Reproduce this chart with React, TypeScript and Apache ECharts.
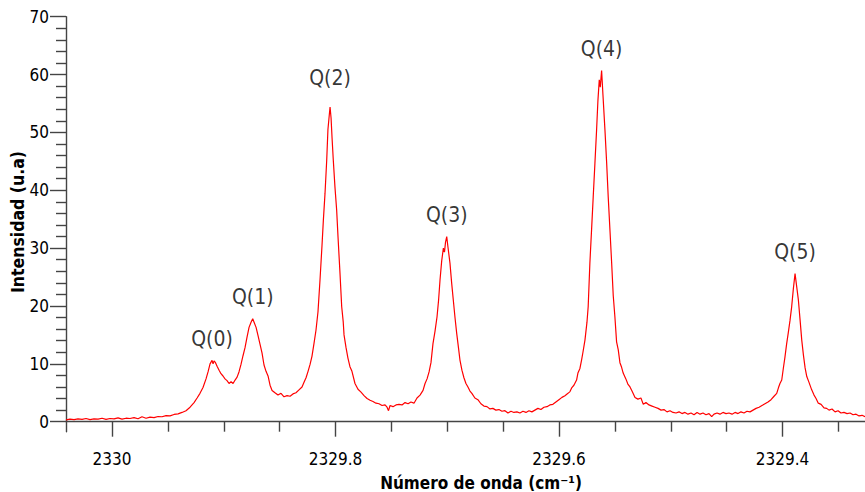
import React, { useEffect, useRef } from "react";
import * as echarts from "echarts";

// Raman Q-branch spectrum: wavenumber (cm^-1) and intensity (u.a)
const waveNumbers: number[] = [
  2330.0412, 2330.0376, 2330.034, 2330.0304, 2330.0268, 2330.0233, 2330.0197, 2330.0161, 2330.0125, 2330.0089,
  2330.0054, 2330.0018, 2329.9982, 2329.9946, 2329.9911, 2329.9875, 2329.9839, 2329.9803, 2329.9767, 2329.9732,
  2329.9696, 2329.966, 2329.9624, 2329.9588, 2329.9553, 2329.9517, 2329.9481, 2329.9445, 2329.9409, 2329.9374,
  2329.9338, 2329.9302, 2329.9266, 2329.9239, 2329.9213, 2329.9186, 2329.9159, 2329.9141, 2329.9123, 2329.9105,
  2329.9096, 2329.9087, 2329.9074, 2329.906, 2329.9042, 2329.9025, 2329.9007, 2329.8989, 2329.8971, 2329.8953,
  2329.8935, 2329.8917, 2329.8899, 2329.8881, 2329.8864, 2329.8846, 2329.8828, 2329.881, 2329.8792, 2329.8774,
  2329.8756, 2329.8741, 2329.8729, 2329.8711, 2329.8694, 2329.8676, 2329.8658, 2329.864, 2329.8622, 2329.8604,
  2329.8586, 2329.8568, 2329.8542, 2329.8515, 2329.8488, 2329.8461, 2329.8434, 2329.8407, 2329.8381, 2329.8354,
  2329.8327, 2329.83, 2329.8282, 2329.8264, 2329.8246, 2329.8228, 2329.8211, 2329.8193, 2329.8175, 2329.8157,
  2329.8139, 2329.8121, 2329.8109, 2329.8094, 2329.8079, 2329.8068, 2329.8056, 2329.8049, 2329.804, 2329.8031,
  2329.802, 2329.8005, 2329.799, 2329.7978, 2329.796, 2329.7945, 2329.7931, 2329.7924, 2329.7906, 2329.7889,
  2329.7871, 2329.7853, 2329.7826, 2329.7799, 2329.7772, 2329.7745, 2329.7718, 2329.7691, 2329.7665, 2329.7638,
  2329.7611, 2329.7584, 2329.7557, 2329.7539, 2329.7526, 2329.7512, 2329.7486, 2329.7459, 2329.7432, 2329.7405,
  2329.7378, 2329.7351, 2329.7325, 2329.7298, 2329.7271, 2329.7244, 2329.7217, 2329.7199, 2329.7181, 2329.7163,
  2329.7146, 2329.7128, 2329.711, 2329.7092, 2329.7078, 2329.7065, 2329.705, 2329.7035, 2329.7025, 2329.7016,
  2329.7005, 2329.6994, 2329.6976, 2329.6961, 2329.6946, 2329.6931, 2329.6916, 2329.69, 2329.6887, 2329.6869,
  2329.6851, 2329.6833, 2329.6815, 2329.6797, 2329.678, 2329.6753, 2329.6726, 2329.6699, 2329.6672, 2329.6645,
  2329.6618, 2329.6592, 2329.6565, 2329.6538, 2329.6511, 2329.6484, 2329.6457, 2329.643, 2329.6404, 2329.6377,
  2329.635, 2329.6323, 2329.6296, 2329.6269, 2329.6243, 2329.6216, 2329.6189, 2329.6162, 2329.6135, 2329.6108,
  2329.6082, 2329.6055, 2329.6028, 2329.6001, 2329.5974, 2329.5947, 2329.592, 2329.5902, 2329.5885, 2329.5867,
  2329.5843, 2329.5831, 2329.5813, 2329.5798, 2329.5786, 2329.5768, 2329.575, 2329.5739, 2329.5724, 2329.5708,
  2329.5694, 2329.5679, 2329.5664, 2329.5652, 2329.564, 2329.5631, 2329.5619, 2329.5607, 2329.5589, 2329.5574,
  2329.556, 2329.5544, 2329.5529, 2329.5515, 2329.55, 2329.5485, 2329.547, 2329.5455, 2329.544, 2329.5426,
  2329.5402, 2329.5384, 2329.5365, 2329.5347, 2329.532, 2329.5294, 2329.5267, 2329.5246, 2329.5222, 2329.5195,
  2329.5168, 2329.5141, 2329.5114, 2329.5087, 2329.5061, 2329.5034, 2329.5007, 2329.498, 2329.4953, 2329.4926,
  2329.49, 2329.4873, 2329.4846, 2329.4819, 2329.4792, 2329.4765, 2329.4738, 2329.4712, 2329.4685, 2329.4658,
  2329.4634, 2329.4613, 2329.4586, 2329.456, 2329.4533, 2329.4506, 2329.4479, 2329.4452, 2329.4425, 2329.4398,
  2329.4372, 2329.4345, 2329.4318, 2329.4291, 2329.4264, 2329.4237, 2329.421, 2329.4184, 2329.4157, 2329.413,
  2329.4103, 2329.4076, 2329.4052, 2329.4036, 2329.4023, 2329.4007, 2329.3993, 2329.3978, 2329.3963, 2329.3949,
  2329.3933, 2329.3918, 2329.3903, 2329.3888, 2329.3873, 2329.3858, 2329.3843, 2329.3828, 2329.3813, 2329.3798,
  2329.3783, 2329.3763, 2329.3739, 2329.3718, 2329.37, 2329.368, 2329.3655, 2329.3629, 2329.3605, 2329.3584,
  2329.3557, 2329.353, 2329.3503, 2329.3477, 2329.345, 2329.3423, 2329.3396, 2329.3369, 2329.3342, 2329.3315,
  2329.3288, 2329.3262,
];

const intensity: number[] = [
  0.3, 0.45, 0.35, 0.5, 0.4, 0.55, 0.35, 0.5, 0.45, 0.6,
  0.4, 0.55, 0.5, 0.65, 0.45, 0.6, 0.55, 0.7, 0.5, 0.85,
  0.6, 0.8, 0.7, 0.9, 0.85, 1.05, 1.0, 1.25, 1.35, 1.6,
  1.9, 2.5, 3.3, 4.1, 4.9, 5.9, 7.4, 8.6, 10.0, 10.6,
  10.0, 10.5, 10.2, 9.6, 8.9, 8.3, 7.9, 7.4, 7.1, 6.6,
  6.9, 6.6, 7.2, 7.7, 8.6, 9.9, 11.4, 12.8, 14.6, 16.3,
  17.2, 17.8, 17.2, 16.3, 14.9, 13.4, 11.9, 9.8, 8.7, 7.9,
  6.3, 5.4, 5.0, 4.6, 4.9, 4.3, 4.5, 4.4, 4.8, 5.0,
  5.5, 6.0, 6.8, 7.6, 8.7, 9.9, 11.3, 13.5, 15.8, 19.0,
  24.5, 30.5, 34.8, 39.5, 45.2, 50.5, 53.0, 54.4, 52.5, 49.0,
  45.2, 40.5, 36.6, 32.0, 25.6, 19.9, 17.2, 15.0, 12.8, 11.0,
  9.5, 8.7, 6.6, 5.6, 5.1, 4.5, 4.0, 3.7, 3.5, 3.2,
  3.1, 2.8, 2.9, 2.5, 1.9, 2.8, 2.6, 2.9, 3.0, 2.9,
  3.3, 3.1, 3.4, 3.2, 4.1, 4.6, 5.4, 6.6, 7.4, 8.6,
  10.2, 13.5, 15.6, 18.1, 21.0, 24.5, 27.8, 30.0, 29.3, 31.0,
  32.0, 30.2, 27.4, 24.0, 21.0, 18.0, 15.3, 12.8, 10.7, 8.9,
  7.6, 6.6, 6.0, 5.3, 4.9, 4.1, 3.8, 3.1, 2.7, 2.6,
  2.2, 2.3, 2.0, 2.1, 1.8, 1.9, 1.5, 1.8, 1.6, 1.7,
  1.5, 1.8, 1.6, 1.9, 1.7, 2.0, 2.3, 2.1, 2.5, 2.6,
  2.9, 3.0, 3.4, 3.8, 4.2, 4.5, 4.9, 5.2, 5.9, 6.3,
  7.2, 8.4, 9.2, 10.7, 12.0, 14.1, 17.2, 19.9, 27.4, 33.5,
  38.9, 44.6, 50.4, 55.5, 59.1, 57.8, 60.7, 56.5, 50.4, 44.8,
  38.9, 33.0, 27.4, 21.8, 18.1, 13.8, 12.4, 10.2, 9.4, 8.4,
  7.4, 6.5, 6.0, 5.3, 4.2, 3.9, 4.1, 3.0, 3.3, 2.9,
  2.7, 2.5, 2.3, 2.0, 2.1, 1.7, 1.9, 1.6, 1.5, 1.7,
  1.4, 1.6, 1.3, 1.5, 1.2, 1.6, 1.3, 1.5, 1.2, 1.4,
  0.86, 1.3, 1.5, 1.3, 1.6, 1.4, 1.5, 1.3, 1.6, 1.4,
  1.7, 1.5, 1.8, 1.7, 2.0, 2.3, 2.5, 2.8, 3.1, 3.4,
  3.8, 4.4, 4.9, 5.9, 6.6, 7.2, 9.2, 11.2, 13.5, 15.3,
  17.5, 19.9, 23.0, 25.6, 23.3, 21.0, 17.6, 14.1, 11.5, 9.3,
  7.8, 6.8, 5.5, 4.6, 4.0, 3.2, 3.0, 2.4, 2.3, 2.0,
  2.2, 1.7, 1.9, 1.5, 1.6, 1.4, 1.5, 1.2, 1.3, 1.0,
  1.1, 0.86,
];

// Rotational line labels and the peak each one sits above
const branchLabels: string[] = ["Q(0)", "Q(1)", "Q(2)", "Q(3)", "Q(4)", "Q(5)"];
const branchWave: number[] = [2329.9105, 2329.8741, 2329.8049, 2329.7005, 2329.5619, 2329.3888];
const branchPeak: number[] = [10.6, 17.8, 54.4, 32.0, 60.7, 25.6];

// Axis ticks
const xMajorTicks: number[] = [2330, 2329.8, 2329.6, 2329.4];
const xMinorTicks: number[] = [
  2329.95, 2329.9, 2329.85, 2329.75, 2329.7, 2329.65, 2329.55, 2329.5, 2329.45, 2329.35,
];
const yMajorTicks: number[] = [0, 10, 20, 30, 40, 50, 60, 70];
const yMinorTicks: number[] = [
  2, 4, 6, 8, 12, 14, 16, 18, 22, 24, 26, 28, 32, 34, 36, 38, 42, 44, 46, 48, 52, 54, 56, 58, 62, 64, 66, 68,
];

const X_MIN = 2329.3262;
const X_MAX = 2330.0412;
const Y_MIN = -1.73;
const Y_MAX = 70;

const FONT = "'DejaVu Sans Condensed', 'DejaVu Sans', sans-serif";
const AXIS_COLOR = "#444444";
const TEXT_COLOR = "#000000";

// Label gap above each peak; Q(2) sits a little higher
const labelGap = (name: string) => (name === "Q(2)" ? 18 : 11);

export default function App() {
  const ref = useRef<HTMLDivElement>(null);

  useEffect(() => {
    if (!ref.current) return;
    const chart = echarts.init(ref.current, undefined, { renderer: "svg" });

    const spectrum = waveNumbers.map((w, i) => [w, intensity[i]]);
    const peaks = branchWave.map((w, i) => ({
      value: [w, branchPeak[i]],
      name: branchLabels[i],
      label: { distance: labelGap(branchLabels[i]) },
    }));

    const tickText = (v: number) => String(Math.round(v * 10) / 10);

    const xBase = {
      type: "value" as const,
      min: X_MIN,
      max: X_MAX,
      inverse: true,
      position: "bottom" as const,
      splitLine: { show: false },
      gridIndex: 0,
    };
    const yBase = {
      type: "value" as const,
      min: Y_MIN,
      max: Y_MAX,
      position: "left" as const,
      splitLine: { show: false },
      gridIndex: 0,
    };

    chart.setOption({
      animation: false,
      backgroundColor: "#ffffff",
      grid: { left: 66, top: 16.7, right: 0, bottom: 60.3, containLabel: false },
      xAxis: [
        {
          ...xBase,
          axisLine: { show: true, lineStyle: { color: AXIS_COLOR, width: 1.4 } },
          axisTick: {
            show: true,
            inside: false,
            length: 15,
            customValues: xMajorTicks,
            lineStyle: { color: AXIS_COLOR, width: 1.4 },
          },
          axisLabel: {
            show: true,
            customValues: xMajorTicks,
            formatter: tickText,
            margin: 19,
            fontSize: 17,
            fontFamily: FONT,
            color: TEXT_COLOR,
          },
        },
        {
          ...xBase,
          axisLine: { show: false },
          axisTick: {
            show: true,
            inside: false,
            length: 10,
            customValues: xMinorTicks,
            lineStyle: { color: AXIS_COLOR, width: 1.4 },
          },
          axisLabel: { show: false },
        },
      ],
      yAxis: [
        {
          ...yBase,
          axisLine: { show: true, lineStyle: { color: AXIS_COLOR, width: 1.4 } },
          axisTick: {
            show: true,
            inside: false,
            length: 16,
            customValues: yMajorTicks,
            lineStyle: { color: AXIS_COLOR, width: 1.4 },
          },
          axisLabel: {
            show: true,
            customValues: yMajorTicks,
            formatter: tickText,
            margin: 17,
            fontSize: 17,
            fontFamily: FONT,
            color: TEXT_COLOR,
          },
        },
        {
          ...yBase,
          axisLine: { show: false },
          axisTick: {
            show: true,
            inside: false,
            length: 10,
            customValues: yMinorTicks,
            lineStyle: { color: AXIS_COLOR, width: 1.4 },
          },
          axisLabel: { show: false },
        },
      ],
      series: [
        {
          type: "line",
          xAxisIndex: 0,
          yAxisIndex: 0,
          data: spectrum,
          showSymbol: false,
          symbol: "none",
          smooth: false,
          lineStyle: { color: "#ff0000", width: 1.2 },
          silent: true,
          z: 3,
        },
        {
          type: "scatter",
          xAxisIndex: 0,
          yAxisIndex: 0,
          data: peaks,
          symbolSize: 0,
          silent: true,
          label: {
            show: true,
            position: "top",
            formatter: (p: any) => p.name,
            fontSize: 21,
            fontFamily: FONT,
            color: TEXT_COLOR,
          },
          z: 4,
        },
      ],
      graphic: [
        {
          type: "text",
          x: 481,
          y: 483,
          style: {
            text: "Número de onda (cm⁻¹)",
            fontSize: 17,
            fontWeight: "bold",
            fontFamily: FONT,
            fill: TEXT_COLOR,
            textAlign: "center",
            textVerticalAlign: "middle",
          },
        },
        {
          type: "text",
          x: 18,
          y: 222,
          rotation: Math.PI / 2,
          style: {
            text: "Intensidad (u.a)",
            fontSize: 17.5,
            fontWeight: "bold",
            fontFamily: FONT,
            fill: TEXT_COLOR,
            textAlign: "center",
            textVerticalAlign: "middle",
          },
        },
      ],
    });

    return () => chart.dispose();
  }, []);

  return (
    <div
      ref={ref}
      style={{ position: "fixed", left: 0, top: 0, width: 865, height: 492, background: "#fff" }}
    />
  );
}
